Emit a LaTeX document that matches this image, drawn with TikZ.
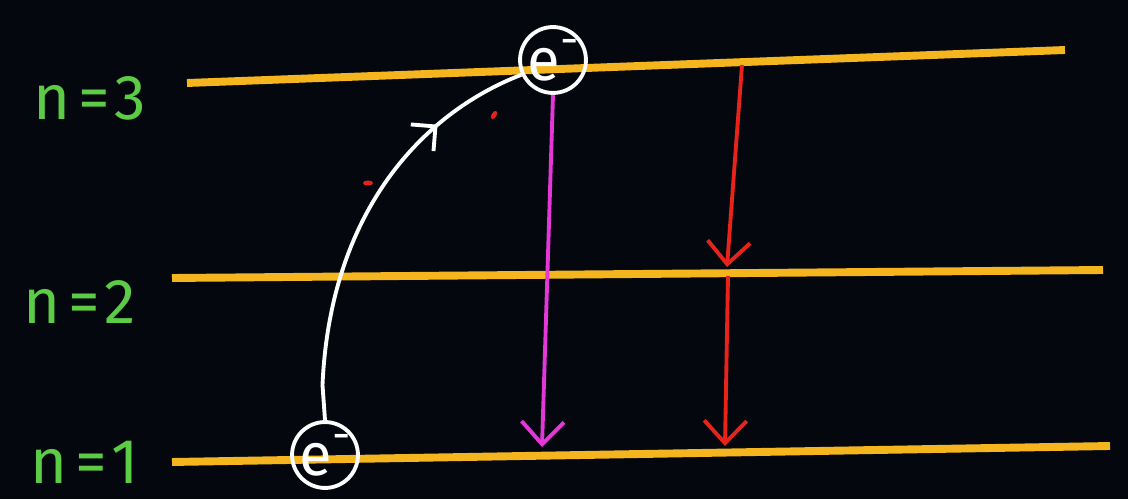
\documentclass[tikz,border=0pt]{standalone}
\usepackage{fontspec}
\setmainfont{Fira Sans}
\usepackage{tikz}
\usetikzlibrary{arrows.meta, positioning, shapes, decorations.markings}
\definecolor{board}{HTML}{05070F}
\definecolor{level}{HTML}{F5B51E}
\definecolor{label}{HTML}{5CCB45}
\definecolor{pink}{HTML}{E337D8}
\definecolor{drop}{HTML}{E8241A}
\tikzstyle{orbit} = [draw=level, line width=4.5pt]
\tikzstyle{tag} = [text=label, font=\fontsize{36}{40}\selectfont]
\tikzstyle{electron} = [draw=white, circle, line width=2.2pt, text=white,
	inner sep=0pt, font=\fontsize{34}{36}\selectfont]
\tikzstyle{jump} = [draw=white, line width=2.2pt]
\tikzstyle{line} = [line width=2.2pt, -{Straight Barb[length=0.45cm, width=0.85cm]}]
\newcommand{\elec}{e\raisebox{0.42em}{\fontsize{26}{26}\selectfont -}}

\begin{document}
\begin{tikzpicture}
		\useasboundingbox (0,0) rectangle (22.56,9.98);
		\fill [board] (0,0) rectangle (22.56,9.98);

		% energy levels
		\path [orbit] (3.74,8.32) -- (21.3,8.98);
		\path [orbit] (3.44,4.42) -- (22.06,4.58);
		\path [orbit] (3.44,0.74) -- (22.2,1.06);

		\node [tag] (n3) at (1.8,8.02) {n\hspace{0.12em}=\hspace{0.08em}3};
		\node [tag] (n2) at (1.6,3.94) {n\hspace{0.12em}=\hspace{0.08em}2};
		\node [tag] (n1) at (1.7,0.74) {n\hspace{0.12em}=\hspace{0.08em}1};

		\node [electron, minimum size=1.3cm] (e3) at (11.06,8.78) {\elec};
		\node [electron, minimum size=1.28cm] (e1) at (6.5,0.88) {\elec};

		\coordinate (p1) at (10.84,1.04);
		\coordinate (r3) at (14.84,8.68);
		\coordinate (r2a) at (14.54,4.64);
		\coordinate (r2b) at (14.56,4.46);
		\coordinate (r1) at (14.5,1.06);

		% excitation
		\path [jump, postaction={decorate, decoration={markings,
			mark=at position 0.77 with {\arrow[white, line width=2.2pt]{Straight Barb[length=0.35cm, width=0.7cm]}}}}]
			(e1.north) -- ++(-0.05,0.7) .. controls (6.6,5.7) and (8.4,7.7) .. (e3.205);

		% emission
		\path [line, draw=pink] (e3.south) -- (p1);
		\path [line, draw=drop] (r3) -- (r2a);
		\path [line, draw=drop] (r2b) -- (r1);

		\fill [drop] (7.36,6.32) ellipse (0.1 and 0.05);
		\fill [drop, rotate around={60:(9.88,7.68)}] (9.88,7.68) ellipse (0.09 and 0.05);
	\end{tikzpicture}
\end{document}
